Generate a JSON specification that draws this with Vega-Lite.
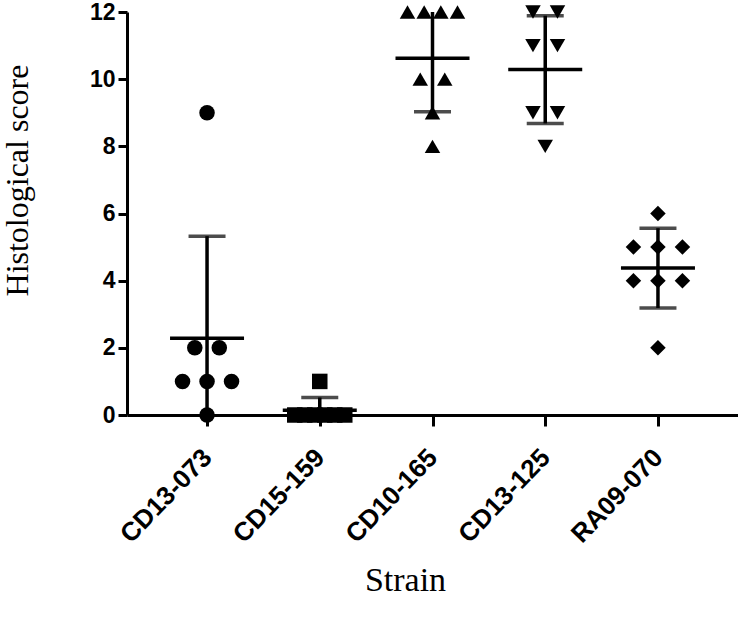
{
  "$schema": "https://vega.github.io/schema/vega-lite/v6.json",
  "width": 611,
  "height": 403,
  "autosize": {"type": "none"},
  "padding": {"left": 127, "top": 12, "right": 0, "bottom": 202},
  "background": "white",
  "config": {
    "view": {"stroke": null},
    "axis": {
      "grid": false,
      "domainColor": "black",
      "domainWidth": 3,
      "tickColor": "black",
      "tickWidth": 3,
      "labelColor": "black",
      "titleColor": "black",
      "labelFont": "Liberation Sans",
      "labelFontWeight": "bold",
      "titleFont": "Liberation Serif",
      "titleFontWeight": "normal"
    }
  },
  "data": {
    "values": [
      {"strain": "CD13-073", "score": 9},
      {"strain": "CD13-073", "score": 2},
      {"strain": "CD13-073", "score": 2},
      {"strain": "CD13-073", "score": 1},
      {"strain": "CD13-073", "score": 1},
      {"strain": "CD13-073", "score": 1},
      {"strain": "CD13-073", "score": 0},
      {"strain": "CD15-159", "score": 1},
      {"strain": "CD15-159", "score": 0},
      {"strain": "CD15-159", "score": 0},
      {"strain": "CD15-159", "score": 0},
      {"strain": "CD15-159", "score": 0},
      {"strain": "CD15-159", "score": 0},
      {"strain": "CD15-159", "score": 0},
      {"strain": "CD10-165", "score": 12},
      {"strain": "CD10-165", "score": 12},
      {"strain": "CD10-165", "score": 12},
      {"strain": "CD10-165", "score": 12},
      {"strain": "CD10-165", "score": 10},
      {"strain": "CD10-165", "score": 10},
      {"strain": "CD10-165", "score": 9},
      {"strain": "CD10-165", "score": 8},
      {"strain": "CD13-125", "score": 12},
      {"strain": "CD13-125", "score": 12},
      {"strain": "CD13-125", "score": 11},
      {"strain": "CD13-125", "score": 11},
      {"strain": "CD13-125", "score": 9},
      {"strain": "CD13-125", "score": 9},
      {"strain": "CD13-125", "score": 8},
      {"strain": "RA09-070", "score": 6},
      {"strain": "RA09-070", "score": 5},
      {"strain": "RA09-070", "score": 5},
      {"strain": "RA09-070", "score": 5},
      {"strain": "RA09-070", "score": 4},
      {"strain": "RA09-070", "score": 4},
      {"strain": "RA09-070", "score": 4},
      {"strain": "RA09-070", "score": 2}
    ]
  },
  "encoding": {
    "x": {
      "field": "strain",
      "type": "nominal",
      "sort": ["CD13-073", "CD15-159", "CD10-165", "CD13-125", "RA09-070"],
      "scale": {"type": "point", "padding": 0.71},
      "axis": {
        "title": "Strain",
        "titleFontSize": 34,
        "titleX": 278,
        "titleY": 175,
        "titleBaseline": "alphabetic",
        "titleAnchor": null,
        "labelAngle": -46,
        "labelFontSize": 26,
        "labelPadding": 27,
        "tickSize": 11
      }
    },
    "y": {
      "field": "score",
      "type": "quantitative",
      "scale": {"domain": [0, 12], "nice": false, "zero": true},
      "axis": {
        "title": "Histological score",
        "titleFontSize": 32,
        "titleAngle": -90,
        "titleX": -100,
        "titleY": 168,
        "titleBaseline": "alphabetic",
        "titleAlign": "center",
        "values": [0, 2, 4, 6, 8, 10, 12],
        "labelFontSize": 23,
        "labelPadding": 3,
        "tickSize": 9
      }
    }
  },
  "layer": [
    {
      "transform": [
        {"window": [{"op": "row_number", "as": "k"}], "groupby": ["strain", "score"]},
        {"joinaggregate": [{"op": "count", "as": "n"}], "groupby": ["strain", "score"]},
        {"calculate": "(datum.k - (datum.n + 1) / 2) * min(24.5, 50 / max(1, datum.n - 1))", "as": "off"}
      ],
      "mark": {"type": "point", "filled": true, "opacity": 1, "color": "black", "size": 240},
      "encoding": {
        "xOffset": {"field": "off", "type": "quantitative", "scale": {"domain": [-50, 50], "range": [-50, 50]}},
        "shape": {
          "field": "strain",
          "type": "nominal",
          "scale": {
            "domain": ["CD13-073", "CD15-159", "CD10-165", "CD13-125", "RA09-070"],
            "range": ["circle", "square", "triangle-up", "triangle-down", "diamond"]
          },
          "legend": null
        }
      }
    },
    {
      "mark": {"type": "errorbar", "extent": "stdev", "ticks": true, "size": 37, "thickness": 3.5, "color": "black", "clip": true},
      "encoding": {}
    },
    {
      "mark": {"type": "tick", "size": 74, "thickness": 3.5, "color": "black", "clip": true},
      "encoding": {
        "y": {"aggregate": "mean", "field": "score", "type": "quantitative"}
      }
    }
  ]
}
